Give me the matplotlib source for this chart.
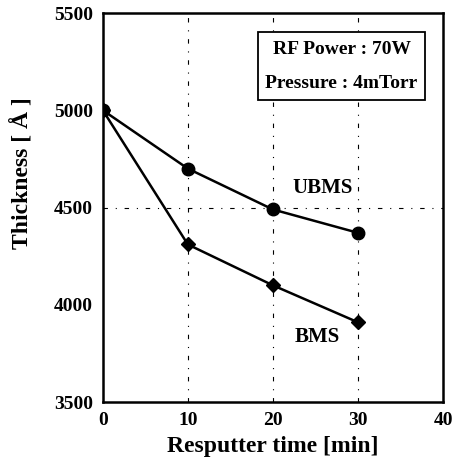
import matplotlib
matplotlib.use('Agg')
import matplotlib.pyplot as plt
from matplotlib.patches import Rectangle

# resputter time (min) and film thickness (Angstrom)
time_min = [0, 10, 20, 30]
ubms = [5000, 4700, 4490, 4370]
bms = [5000, 4310, 4100, 3910]

x_ticks = [0, 10, 20, 30, 40]
y_ticks = [3500, 4000, 4500, 5000, 5500]

plt.rcParams['font.family'] = ['Liberation Serif', 'DejaVu Serif']
plt.rcParams['font.weight'] = 'bold'

fig = plt.figure(figsize=(4.53, 4.73), dpi=100)
ax = fig.add_axes([0.227, 0.150, 0.751, 0.8225])

ax.plot(time_min, ubms, color='black', lw=1.8, marker='o', markersize=9)
ax.plot(time_min, bms, color='black', lw=1.8, marker='D', markersize=7)

ax.set_xlim(0, 40)
ax.set_ylim(3500, 5500)
ax.set_xticks(x_ticks)
ax.set_yticks(y_ticks)
ax.tick_params(length=0, labelsize=14, pad=7)
for lab in ax.get_xticklabels() + ax.get_yticklabels():
    lab.set_fontweight('bold')

# sparse dash-dot grid as in the scanned figure
for xv in [10, 20, 30]:
    ax.axvline(xv, color='black', lw=0.8, ls=(0, (4, 7, 1, 7)), zorder=0)
ax.axhline(4500, color='black', lw=0.8, ls=(0, (4, 7, 1, 7)), zorder=0)

for sp in ax.spines.values():
    sp.set_linewidth(1.8)

ax.set_xlabel('Resputter time [min]', fontsize=17, fontweight='bold', labelpad=5)
fig.text(0.05, 0.634, 'Thickness [ Å ]', rotation=90, fontsize=17,
         fontweight='bold', ha='center', va='center')

ax.text(22.35, 4598, 'UBMS', fontsize=15, fontweight='bold', va='center')
ax.text(25.2, 3835, 'BMS', fontsize=15, fontweight='bold', va='center', ha='center')

# condition box
fig.patches.append(Rectangle((0.5695, 0.7886), 0.3687, 0.1438, transform=fig.transFigure,
                             fc='white', ec='black', lw=1.3, zorder=5))
fig.text(0.7539, 0.8943, 'RF Power : 70W', fontsize=14, fontweight='bold',
         ha='center', va='center', zorder=6)
fig.text(0.7539, 0.8245, 'Pressure : 4mTorr', fontsize=14, fontweight='bold',
         ha='center', va='center', zorder=6)

fig.savefig('out.png', dpi=100)
